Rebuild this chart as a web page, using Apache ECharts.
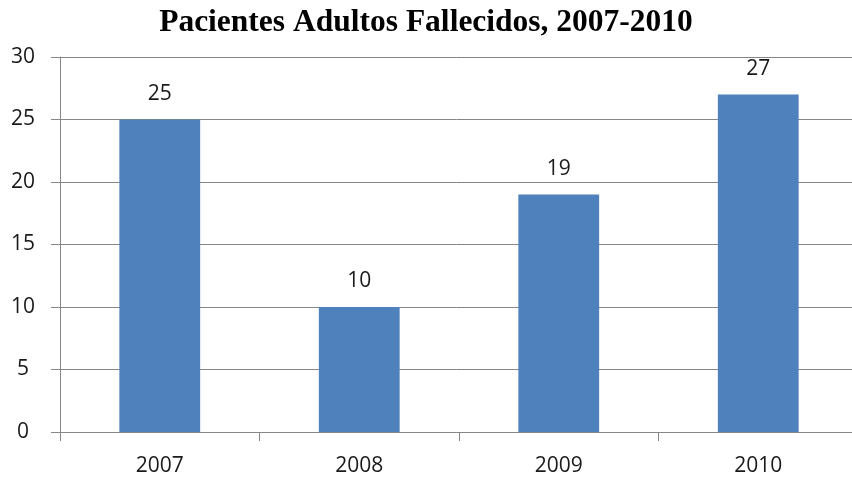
<!DOCTYPE html>
<html><head><meta charset="utf-8">
<script src="https://cdn.jsdelivr.net/npm/echarts@6/dist/echarts.min.js"></script>
<style>html,body{margin:0;padding:0;background:#fff}#c{width:852px;height:487px}</style>
</head><body><div id="c"></div>
<script>
const titleText = 'Pacientes Adultos Fallecidos, 2007-2010';
const categories = ['2007', '2008', '2009', '2010'];
const values = [25, 10, 19, 27];
const yTicks = { min: 0, max: 30, interval: 5 };

const chart = echarts.init(document.getElementById('c'), null, { renderer: 'canvas' });
const labelFont = { fontFamily: '"Open Sans", "Liberation Sans", sans-serif', fontSize: 21, color: '#1a1a1a' };
chart.setOption({
  animation: false,
  title: {
    text: titleText, left: 'center', top: 2,
    textStyle: { fontFamily: '"Liberation Serif", "Times New Roman", serif', fontWeight: 'bold', fontSize: 31.5, color: '#000' }
  },
  grid: { left: 60, width: 798, top: 57, height: 375, outerBoundsMode: 'none', containLabel: false },
  xAxis: {
    type: 'category', data: categories,
    axisLine: { lineStyle: { color: '#868686', width: 1 } },
    axisTick: { show: true, length: 9, lineStyle: { color: '#868686' } },
    axisLabel: Object.assign({ margin: 24 }, labelFont)
  },
  yAxis: {
    type: 'value', min: yTicks.min, max: yTicks.max, interval: yTicks.interval,
    axisLine: { show: true, lineStyle: { color: '#868686' } },
    axisTick: { show: true, length: 9, lineStyle: { color: '#868686' } },
    splitLine: { lineStyle: { color: '#868686', width: 1 } },
    axisLabel: Object.assign({ margin: 37, align: 'center' }, labelFont)
  },
  series: [{
    type: 'bar', data: values, barWidth: '40.5%',
    itemStyle: { color: '#4F81BD' },
    label: Object.assign({ show: true, position: 'top', distance: 15 }, labelFont)
  }]
});
</script></body></html>
